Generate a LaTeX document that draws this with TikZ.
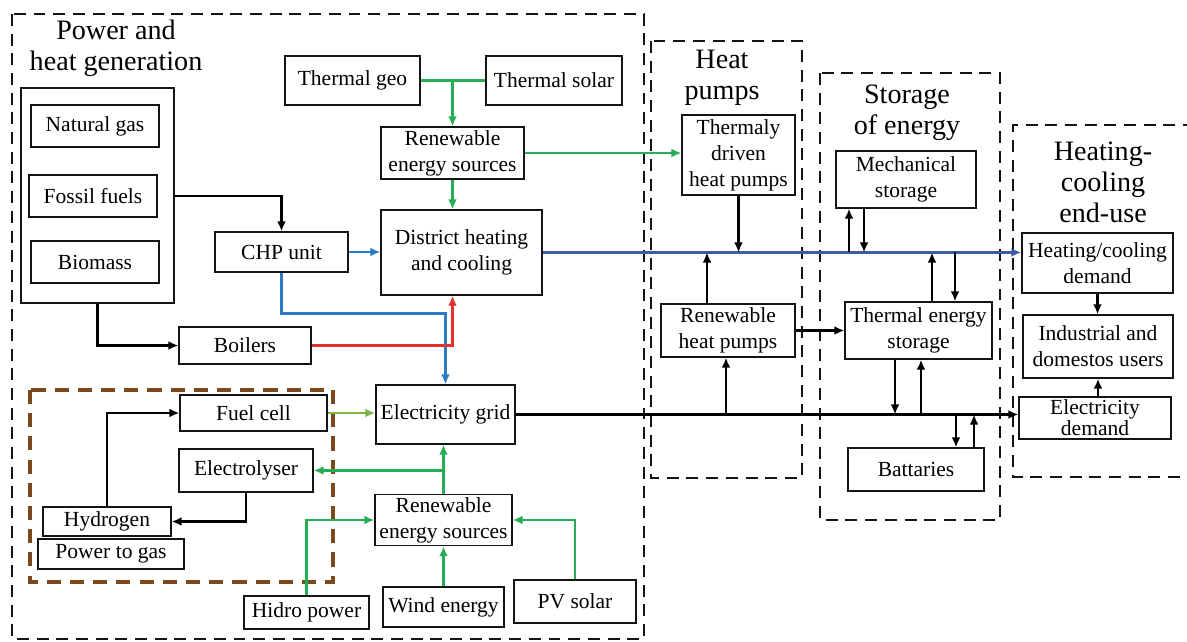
\documentclass[tikz,border=0pt]{standalone}
\usepackage{fontspec}
\setmainfont{Liberation Serif}
\usetikzlibrary{arrows.meta,calc}
\definecolor{Ink}{HTML}{141414}
\definecolor{Leaf}{HTML}{27AE55}
\definecolor{Olive}{HTML}{7DB544}
\definecolor{Sky}{HTML}{2B7BC6}
\definecolor{Navy}{HTML}{3A5DA6}
\definecolor{Flame}{HTML}{E4312B}
\definecolor{Umber}{HTML}{7A4A1C}

\begin{document}
\begin{tikzpicture}[x=0.025cm,y=-0.025cm,>={Latex[length=2.5mm,width=2.2mm]},
    box/.style={draw=Ink,line width=0.9pt,fill=white,inner sep=2pt,align=center,
                font=\fontsize{15.3}{18.5}\selectfont},
    zone/.style={draw=Ink,line width=2.1pt,dash pattern=on 8.5pt off 5.5pt},
    title/.style={align=center,font=\fontsize{20}{22}\selectfont},
    flow/.style={line width=1.8pt,->}]
        \useasboundingbox (0,0) rectangle (1187,642);
        % dashed groups
        \draw[zone] (12,14) rectangle (644,639);
        \draw[zone] (651,41) rectangle (802,478);
        \draw[zone] (820,73) rectangle (1000,520);
        \draw[zone] (1195,125) -- (1013,125) -- (1013,477) -- (1195,477);
        \draw[zone,draw=Umber,line width=2.8pt,dash pattern=on 10pt off 6.5pt]
              (30,390) rectangle (333,582);
        \node[title] (gentitle) at (116,48) {Power and\\heat generation};
        \node[title] (hptitle) at (722,78) {Heat\\pumps};
        \node[title] (sttitle) at (907,113) {Storage\\of energy};
        \node[title] (eutitle) at (1103,182) {Heating-\\cooling\\end-use};
        % power and heat generation
        \node[box,line width=1.8pt,minimum width=3.825cm,minimum height=5.375cm] (fuels) at (97.5,195.5) {};
        \node[box,minimum width=3.2cm,minimum height=1.05cm] (ngas) at (95,126) {Natural gas};
        \node[box,minimum width=3.2cm,minimum height=1.05cm] (fossil) at (93,196) {Fossil fuels};
        \node[box,minimum width=3.2cm,minimum height=1.05cm] (biomass) at (95,262) {Biomass};
        \node[box,minimum width=3.325cm,minimum height=1cm] (chp) at (281.5,252) {CHP unit};
        \node[box,minimum width=3.375cm,minimum height=1.225cm] (thgeo) at (352.5,80.5) {Thermal geo};
        \node[box,minimum width=3.4cm,minimum height=1.225cm] (thsol) at (554,80.5) {Thermal solar};
        \node[box,minimum width=3.575cm,minimum height=1.3cm] (res1) at (452.5,153) {Renewable\\energy sources};
        \node[box,minimum width=4.025cm,minimum height=2.125cm] (dhc) at (461.5,252.5) {District heating\\and cooling};
        \node[box,minimum width=3.3cm,minimum height=0.925cm] (boilers) at (245,345.5) {Boilers};
        \node[box,minimum width=3.475cm,minimum height=1.475cm] (grid) at (445.5,414.5) {Electricity grid};
        \node[box,minimum width=3.675cm,minimum height=0.9cm] (fcell) at (253.5,413) {Fuel cell};
        \node[box,minimum width=3.35cm,minimum height=1.075cm] (elyser) at (246,470.5) {Electrolyser};
        \node[box,minimum width=3.2cm,minimum height=0.725cm] (hydro) at (107,521.5) {Hydrogen};
        \node[box,minimum width=3.65cm,minimum height=0.75cm] (ptg) at (111,554) {Power to gas};
        \node[box,minimum width=3.425cm,minimum height=1.25cm] (res2) at (443.5,520) {Renewable\\energy sources};
        \node[box,minimum width=3.125cm,minimum height=0.825cm] (hidro) at (306.5,612.5) {Hidro power};
        \node[box,minimum width=3.025cm,minimum height=1cm] (wind) at (443.5,607) {Wind energy};
        \node[box,minimum width=3.05cm,minimum height=1.075cm] (pv) at (575,601.5) {PV solar};
        % heat pumps, storage, end-use
        \node[box,minimum width=2.825cm,minimum height=2cm] (tdhp) at (738.5,155) {Thermaly\\driven\\heat pumps};
        \node[box,minimum width=3.35cm,minimum height=1.325cm] (rhp) at (728,330.5) {Renewable\\heat pumps};
        \node[box,minimum width=3.5cm,minimum height=1.425cm] (mech) at (906,179.5) {Mechanical\\storage};
        \node[box,minimum width=3.675cm,minimum height=1.425cm] (tes) at (918.5,330.5) {Thermal energy\\storage};
        \node[box,minimum width=3.4cm,minimum height=1.075cm] (batt) at (916,469.5) {Battaries};
        \node[box,minimum width=3.775cm,minimum height=1.5cm] (hcd) at (1097.5,263) {Heating/cooling\\demand};
        \node[box,minimum width=3.75cm,minimum height=1.575cm] (ind) at (1098,346.5) {Industrial and\\domestos users};
        \node[box,minimum width=3.8cm,minimum height=1.05cm,font=\fontsize{15.3}{13.5}\selectfont]
              (edem) at (1095,418) {Electricity\\demand};
        % connectors
        \draw[flow] (fuels.east |- fossil) -| (chp.north);
        \draw[flow] (fuels.south) |- (boilers.west);
        \draw[flow,Sky] (chp.east) -- (chp.east -| dhc.west);
        \draw[flow,Sky] (chp.south) -- ++(0,41) -| (grid.north);
        \draw[flow,Flame] (boilers.east) -| (res1.south |- dhc.south);
        \draw[line width=1.8pt,Leaf] (thgeo.east) -- (thsol.west);
        \draw[flow,Leaf] (res1.north |- thgeo.east) -- (res1.north);
        \draw[flow,Leaf] (res1.south) -- (res1.south |- dhc.north);
        \draw[flow,Leaf] (res1.east) -- (res1.east -| tdhp.west);
        \draw[flow,Navy] (dhc.east) -- (dhc.east -| hcd.west);
        \draw[flow] (grid.east) -- (grid.east -| edem.west);
        \draw[flow,Olive] (fcell.east) -- (fcell.east -| grid.west);
        \draw[flow,Leaf] (res2.north) -- (res2.north |- grid.south);
        \draw[flow,Leaf] (res2.north |- elyser.east) -- (elyser.east);
        \draw[flow] (elyser.south) |- (hydro.east);
        \draw[flow] (hydro.north) |- (fcell.west);
        \draw[flow,Leaf] (hidro.north) |- (res2.west);
        \draw[flow,Leaf] (wind.north) -- (wind.north |- res2.south);
        \draw[flow,Leaf] (pv.north) |- (res2.east);
        \coordinate (hbus) at (dhc.east);
        \coordinate (ebus) at (grid.east);
        \draw[flow] (tdhp.south) -- (tdhp.south |- hbus);
        \draw[flow] (707,0 |- rhp.north) -- (707,0 |- hbus);
        \draw[flow] (726,0 |- ebus) -- (726,0 |- rhp.south);
        \draw[flow] (rhp.east) -- (rhp.east -| tes.west);
        \draw[flow] (849,0 |- hbus) -- (849,0 |- mech.south);
        \draw[flow] (864,0 |- mech.south) -- (864,0 |- hbus);
        \draw[flow] (932,0 |- tes.north) -- (932,0 |- hbus);
        \draw[flow] (955,0 |- hbus) -- (955,0 |- tes.north);
        \draw[flow] (895,0 |- tes.south) -- (895,0 |- ebus);
        \draw[flow] (921,0 |- ebus) -- (921,0 |- tes.south);
        \draw[flow] (956,0 |- ebus) -- (956,0 |- batt.north);
        \draw[flow] (974,0 |- batt.north) -- (974,0 |- ebus);
        \draw[flow] (hcd.south) -- (hcd.south |- ind.north);
        \draw[flow] (ind.south |- edem.north) -- (ind.south);
      \end{tikzpicture}
\end{document}
